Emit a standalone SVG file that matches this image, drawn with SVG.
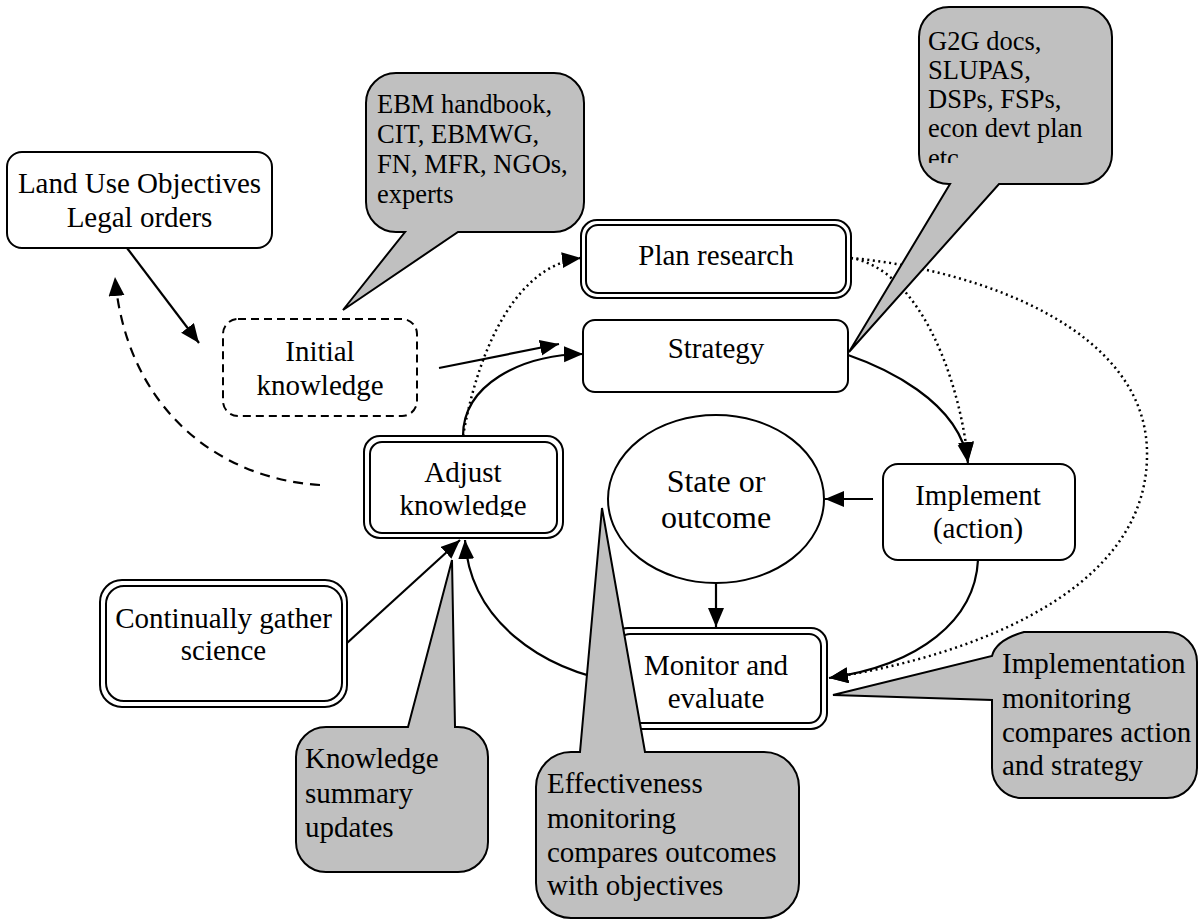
<svg xmlns="http://www.w3.org/2000/svg" width="1199" height="920" viewBox="0 0 1199 920">
  <style>
    .t { font-family: "Liberation Serif", "Times New Roman", serif; font-size: 29px; fill: #000; }
    .tc { text-anchor: middle; }
    .small { font-size: 26.5px; }
    .big { font-size: 32px; }
    .box { fill: #fff; stroke: #000; stroke-width: 2; }
    .dash { stroke-dasharray: 8 5; }
    .call { fill: #c0c0c0; stroke: #000; stroke-width: 2; stroke-linejoin: miter; }
    .edge { fill: none; stroke: #000; stroke-width: 2.2; }
    .dashed { stroke-dasharray: 10 7; }
    .dotted { stroke-dasharray: 2 3.5; stroke-width: 2.5; }
  </style>
  <defs>
    <marker id="arrow" markerUnits="userSpaceOnUse" markerWidth="22" markerHeight="18" refX="19" refY="8" orient="auto">
      <path d="M0,0 L19,8 L0,16 Z" fill="#000"/>
    </marker>
    <clipPath id="clipAdjust"><rect x="370" y="442" width="187" height="75"/></clipPath>
    <clipPath id="clipG2G"><rect x="919" y="7" width="193" height="156"/></clipPath>
  </defs>

  <!-- connectors -->
  <g id="connectors">
    <line class="edge" x1="127" y1="248" x2="199" y2="343" marker-end="url(#arrow)"/>
    <path class="edge dashed" d="M320,485 C210,478 125,400 115,277" marker-end="url(#arrow)"/>
    <line class="edge" x1="439" y1="368" x2="559" y2="344" marker-end="url(#arrow)"/>
    <path class="edge" d="M463,436 C463,385 520,355 583,354" marker-end="url(#arrow)"/>
    <path class="edge dotted" d="M463,436 C480,340 520,265 581,258" marker-end="url(#arrow)"/>
    <path class="edge" d="M848,355 C880,366 960,400 968,463" marker-end="url(#arrow)"/>
    <path class="edge dotted" d="M851,258 C920,270 960,380 968,461" marker-end="url(#arrow)"/>
    <path class="edge dotted" d="M851,258 C980,270 1150,330 1147,457 C1145,600 950,660 829,678" marker-end="url(#arrow)"/>
    <line class="edge" x1="873" y1="499" x2="825" y2="499" marker-end="url(#arrow)"/>
    <line class="edge" x1="716" y1="583" x2="716" y2="627" marker-end="url(#arrow)"/>
    <path class="edge" d="M978,560 C975,620 920,665 829,678" marker-end="url(#arrow)"/>
    <path class="edge" d="M622,683 C540,670 470,620 465,540" marker-end="url(#arrow)"/>
    <line class="edge" x1="347" y1="643" x2="460" y2="540" marker-end="url(#arrow)"/>
  </g>

  <!-- nodes -->
  <g id="land-use">
    <rect class="box" x="7" y="152" width="265" height="96" rx="15"/>
    <text class="t tc" x="139.5" y="193">Land Use Objectives</text>
    <text class="t tc" x="139.5" y="227">Legal orders</text>
  </g>

  <g id="initial-knowledge">
    <rect class="box dash" x="223" y="319" width="194" height="97" rx="15"/>
    <text class="t tc" x="320" y="361">Initial</text>
    <text class="t tc" x="320" y="395">knowledge</text>
  </g>

  <g id="plan-research">
    <rect class="box" x="581" y="220" width="270" height="78" rx="16"/>
    <rect class="box" x="586" y="225" width="260" height="68" rx="12"/>
    <text class="t tc" x="716" y="265">Plan research</text>
  </g>

  <g id="strategy">
    <rect class="box" x="583" y="320" width="265" height="72" rx="12"/>
    <text class="t tc" x="716" y="358">Strategy</text>
  </g>

  <g id="implement">
    <rect class="box" x="883" y="464" width="192" height="96" rx="15"/>
    <text class="t tc" x="978" y="505">Implement</text>
    <text class="t tc" x="978" y="538">(action)</text>
  </g>

  <g id="state">
    <ellipse class="box" cx="716" cy="499" rx="108" ry="84"/>
    <text class="t tc big" x="716" y="492">State or</text>
    <text class="t tc big" x="716" y="528">outcome</text>
  </g>

  <g id="monitor">
    <rect class="box" x="612" y="628" width="215" height="101" rx="16"/>
    <rect class="box" x="618" y="634" width="203" height="89" rx="12"/>
    <text class="t tc" x="716" y="675">Monitor and</text>
    <text class="t tc" x="716" y="708">evaluate</text>
  </g>

  <g id="adjust-knowledge">
    <rect class="box" x="364" y="436" width="199" height="102" rx="16"/>
    <rect class="box" x="370" y="442" width="187" height="91" rx="12"/>
    <g clip-path="url(#clipAdjust)">
      <text class="t tc" x="463" y="482">Adjust</text>
      <text class="t tc" x="463" y="515">knowledge</text>
    </g>
  </g>

  <g id="gather-science">
    <rect class="box" x="100" y="580" width="247" height="127" rx="22"/>
    <rect class="box" x="106" y="586" width="236" height="115" rx="18"/>
    <text class="t tc" x="223.5" y="628">Continually gather</text>
    <text class="t tc" x="223.5" y="660">science</text>
  </g>

  <!-- callouts -->
  <g id="callout-sources">
    <path class="call" d="M396,73 H554 A30,30 0 0 1 584,103 V202 A30,30 0 0 1 554,232 H458 L343,310 L405,232 H396 A30,30 0 0 1 366,202 V103 A30,30 0 0 1 396,73 Z"/>
    <text class="t small" x="377" y="113">EBM handbook,</text>
    <text class="t small" x="377" y="143">CIT, EBMWG,</text>
    <text class="t small" x="377" y="173">FN, MFR, NGOs,</text>
    <text class="t small" x="377" y="203">experts</text>
  </g>

  <g id="callout-plans">
    <path class="call" d="M949,7 H1082 A30,30 0 0 1 1112,37 V154 A30,30 0 0 1 1082,184 H999 L849,352 L950,184 H949 A30,30 0 0 1 919,154 V37 A30,30 0 0 1 949,7 Z"/>
    <g clip-path="url(#clipG2G)">
      <text class="t small" x="928" y="50">G2G docs,</text>
      <text class="t small" x="928" y="79">SLUPAS,</text>
      <text class="t small" x="928" y="108">DSPs, FSPs,</text>
      <text class="t small" x="928" y="137">econ devt plan</text>
      <text class="t small" x="928" y="167">etc</text>
    </g>
  </g>

  <g id="callout-implementation">
    <path class="call" d="M1024,632 H1167 A30,30 0 0 1 1197,662 V768 A30,30 0 0 1 1167,798 H1022 A30,30 0 0 1 992,768 V700 L833,695 L992,656 Q996,640 1024,632 Z"/>
    <text class="t" x="1002" y="673">Implementation</text>
    <text class="t" x="1002" y="708">monitoring</text>
    <text class="t" x="1002" y="742">compares action</text>
    <text class="t" x="1002" y="775">and strategy</text>
  </g>

  <g id="callout-knowledge">
    <path class="call" d="M326,727 H408 L452,560 L455,727 H458 A30,30 0 0 1 488,757 V842 A30,30 0 0 1 458,872 H326 A30,30 0 0 1 296,842 V757 A30,30 0 0 1 326,727 Z"/>
    <text class="t" x="305" y="768">Knowledge</text>
    <text class="t" x="305" y="803">summary</text>
    <text class="t" x="305" y="837">updates</text>
  </g>

  <g id="callout-effectiveness">
    <path class="call" d="M571,752 H580 L602,508 L645,752 H764 A35,35 0 0 1 799,787 V883 A35,35 0 0 1 764,918 H571 A35,35 0 0 1 536,883 V787 A35,35 0 0 1 571,752 Z"/>
    <text class="t" x="547" y="793">Effectiveness</text>
    <text class="t" x="547" y="828">monitoring</text>
    <text class="t" x="547" y="862">compares outcomes</text>
    <text class="t" x="547" y="895">with objectives</text>
  </g>
</svg>
